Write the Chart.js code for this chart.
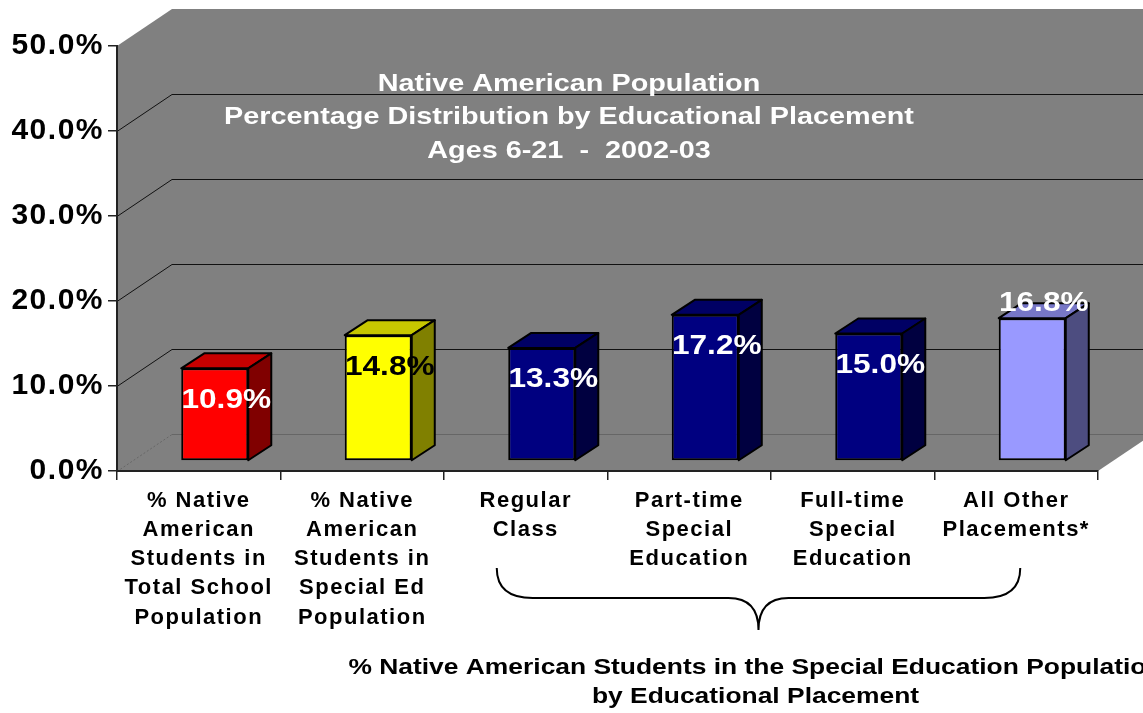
<!DOCTYPE html>
<html>
<head>
<meta charset="utf-8">
<script src="https://cdn.jsdelivr.net/npm/chart.js@4.4.1/dist/chart.umd.min.js"></script>
<style>
  html, body { margin: 0; padding: 0; background: #fff; }
  #wrap { width: 1143px; height: 713px; }
</style>
</head>
<body>
<div id="wrap"><canvas id="placementChart"></canvas></div>
<script>
const categories = [
  ['% Native', 'American', 'Students in', 'Total School', 'Population'],
  ['% Native', 'American', 'Students in', 'Special Ed', 'Population'],
  ['Regular', 'Class'],
  ['Part-time', 'Special', 'Education'],
  ['Full-time', 'Special', 'Education'],
  ['All Other', 'Placements*']
];
const shares = [10.9, 14.8, 13.3, 17.2, 15.0, 16.8];
const yTicks = [0, 10, 20, 30, 40, 50];
const barColors = ['#FF0000', '#FFFF00', '#000080', '#000080', '#000080', '#9999FF'];
const labelColors = ['#FFFFFF', '#000000', '#FFFFFF', '#FFFFFF', '#FFFFFF', '#FFFFFF'];
const labelSpots = ['inside', 'inside', 'inside', 'inside', 'inside', 'above'];
const titleLines = [
  'Native American Population',
  'Percentage Distribution by Educational Placement',
  'Ages 6-21  -  2002-03'
];
const captionLines = [
  '% Native American Students in the Special Education Population',
  'by Educational Placement'
];

const FONT = "'Liberation Sans', Arial, sans-serif";
// depth of the whole plot box and of a single bar
const WALL_DX = 55, WALL_DY = -37;
const BAR_DX = 23, BAR_DY = -15;
const SHIFT_X = (WALL_DX - BAR_DX) / 2, SHIFT_Y = (WALL_DY - BAR_DY) / 2 + 1;

function shade(hex, f) {
  const n = parseInt(hex.slice(1), 16);
  const r = Math.round(((n >> 16) & 255) * f);
  const g = Math.round(((n >> 8) & 255) * f);
  const b = Math.round((n & 255) * f);
  return `rgb(${r},${g},${b})`;
}

function wideText(ctx, text, x, y, sx) {
  ctx.save();
  ctx.translate(x, y);
  ctx.scale(sx, 1);
  ctx.fillText(text, 0, 0);
  ctx.restore();
}

const boxPlugin = {
  id: 'box3d',
  beforeDraw(chart) {
    const { ctx, chartArea: a, scales: { y } } = chart;
    ctx.save();
    ctx.fillStyle = '#808080';
    ctx.beginPath();
    ctx.moveTo(a.left, a.bottom);
    ctx.lineTo(a.left, a.top);
    ctx.lineTo(a.left + WALL_DX, a.top + WALL_DY);
    ctx.lineTo(a.right + WALL_DX, a.top + WALL_DY);
    ctx.lineTo(a.right + WALL_DX, a.bottom + WALL_DY);
    ctx.lineTo(a.right, a.bottom);
    ctx.closePath();
    ctx.fill();

    ctx.lineWidth = 1;
    y.ticks.forEach(t => {
      if (t.value === y.max) return;
      const py = Math.round(y.getPixelForValue(t.value)) + 0.5;
      const floor = t.value === 0;
      ctx.strokeStyle = floor ? 'rgba(0,0,0,0.2)' : '#111';
      ctx.setLineDash(floor ? [2, 2] : []);
      ctx.beginPath();
      ctx.moveTo(a.left, py);
      ctx.lineTo(a.left + WALL_DX, py + WALL_DY);
      ctx.stroke();
      ctx.setLineDash([]);
      ctx.beginPath();
      ctx.moveTo(a.left + WALL_DX, py + WALL_DY);
      ctx.lineTo(a.right + WALL_DX, py + WALL_DY);
      ctx.stroke();
    });

    ctx.fillStyle = '#FFFFFF';
    ctx.font = 'bold 24px ' + FONT;
    ctx.textAlign = 'center';
    ctx.textBaseline = 'middle';
    titleLines.forEach((line, i) => wideText(ctx, line, 569, 84 + i * 33.5, 1.2));
    ctx.restore();
    // axis labels in this chart are set a little loose
    ctx.letterSpacing = '1.5px';
  },
  beforeDatasetsDraw(chart) {
    const ctx = chart.ctx;
    ctx.letterSpacing = '0px';
    ctx.save();
    ctx.translate(SHIFT_X, SHIFT_Y);
  },
  afterDatasetsDraw(chart) {
    const ctx = chart.ctx;
    const bars = chart.getDatasetMeta(0).data;
    ctx.lineWidth = 2;
    ctx.lineJoin = 'round';
    ctx.strokeStyle = '#000';
    bars.forEach((bar, i) => {
      const { x, y, base, width } = bar.getProps(['x', 'y', 'base', 'width'], true);
      const l = x - width / 2, r = x + width / 2;
      // top face
      ctx.fillStyle = shade(barColors[i], 0.78);
      ctx.beginPath();
      ctx.moveTo(l, y);
      ctx.lineTo(l + BAR_DX, y + BAR_DY);
      ctx.lineTo(r + BAR_DX, y + BAR_DY);
      ctx.lineTo(r, y);
      ctx.closePath();
      ctx.fill();
      ctx.stroke();
      // side face
      ctx.fillStyle = shade(barColors[i], 0.5);
      ctx.beginPath();
      ctx.moveTo(r, y);
      ctx.lineTo(r + BAR_DX, y + BAR_DY);
      ctx.lineTo(r + BAR_DX, base + BAR_DY);
      ctx.lineTo(r, base);
      ctx.closePath();
      ctx.fill();
      ctx.stroke();
    });
    ctx.restore();

    ctx.save();
    ctx.font = 'bold 27px ' + FONT;
    ctx.textAlign = 'center';
    ctx.textBaseline = 'middle';
    bars.forEach((bar, i) => {
      const { x, y } = bar.getProps(['x', 'y'], true);
      const ly = y + SHIFT_Y + (labelSpots[i] === 'above' ? -15 : 32);
      ctx.fillStyle = labelColors[i];
      wideText(ctx, shares[i].toFixed(1) + '%', x + SHIFT_X + BAR_DX / 2, ly, 1.17);
    });
    ctx.restore();
  },
  afterDraw(chart) {
    const { ctx, scales: { x } } = chart;
    const left = x.getPixelForValue(2) - 29;
    const right = x.getPixelForValue(5) + 4;
    const mid = (left + right) / 2;
    const top = 568, band = 598, tip = 630;
    ctx.save();
    ctx.strokeStyle = '#000';
    ctx.lineWidth = 2;
    ctx.beginPath();
    ctx.moveTo(left, top);
    ctx.quadraticCurveTo(left, band, left + 36, band);
    ctx.lineTo(mid - 30, band);
    ctx.quadraticCurveTo(mid, band, mid, tip);
    ctx.moveTo(right, top);
    ctx.quadraticCurveTo(right, band, right - 36, band);
    ctx.lineTo(mid + 30, band);
    ctx.quadraticCurveTo(mid, band, mid, tip);
    ctx.stroke();

    ctx.fillStyle = '#000';
    ctx.font = 'bold 22px ' + FONT;
    ctx.textAlign = 'center';
    ctx.textBaseline = 'middle';
    captionLines.forEach((line, i) => wideText(ctx, line, mid - 3, 668 + i * 29, 1.2));
    ctx.restore();
  }
};

Chart.defaults.font.family = FONT;

const ctx = document.getElementById('placementChart').getContext('2d');
const placementChart = new Chart(ctx, {
  type: 'bar',
  data: {
    labels: categories,
    datasets: [
      {
        data: shares,
        backgroundColor: barColors,
        borderColor: '#000',
        borderWidth: 2,
        borderSkipped: false,
        categoryPercentage: 1,
        barPercentage: 0.41,
      },
    ],
  },
  options: {
    responsive: true,
    maintainAspectRatio: false,
    animation: false,
    layout: {
      padding: { top: 46, right: 45, bottom: 0, left: 0 },
    },
    scales: {
      y: {
        min: 0,
        max: 50,
        afterBuildTicks: (scale) => {
          scale.ticks = yTicks.map(v => ({ value: v }));
        },
        afterFit: (scale) => {
          scale.width = 117;
        },
        grid: {
          drawOnChartArea: false,
          drawTicks: true,
          tickLength: 9,
          color: '#222',
          lineWidth: 1.5,
        },
        border: { display: true, color: '#222', width: 2 },
        ticks: {
          padding: 4,
          color: '#000',
          font: { size: 30, weight: 'bold' },
          callback: (value) => value.toFixed(1) + '%',
        },
      },
      x: {
        afterFit: (scale) => {
          scale.height = 242;
        },
        grid: {
          offset: true,
          drawOnChartArea: false,
          drawTicks: true,
          tickLength: 9,
          color: '#222',
          lineWidth: 1.5,
        },
        border: { display: true, color: '#222', width: 2 },
        ticks: {
          autoSkip: false,
          maxRotation: 0,
          minRotation: 0,
          padding: 6,
          color: '#000',
          font: { size: 22, weight: 'bold', lineHeight: 1.33 },
        },
      },
    },
    plugins: {
      legend: { display: false },
      tooltip: { enabled: false },
    },
  },
  plugins: [boxPlugin],
});
</script>
</body>
</html>
